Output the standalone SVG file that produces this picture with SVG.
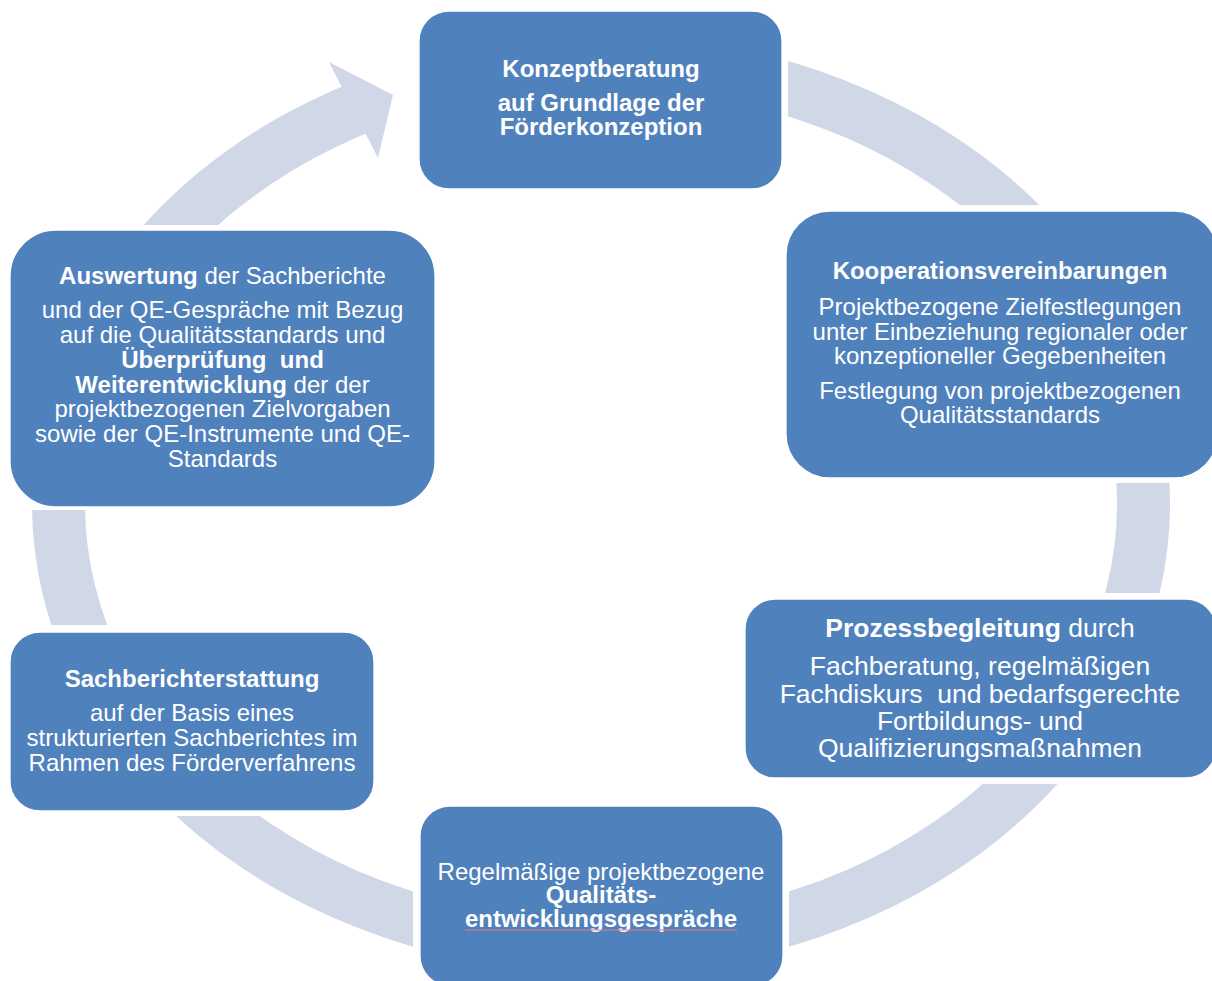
<svg xmlns="http://www.w3.org/2000/svg" width="1212" height="981" viewBox="0 0 1212 981">
<style>
.box{fill:#4F81BD;stroke:#FFFFFF;stroke-width:1.3}
.ring{fill:#D0D8E8;fill-rule:evenodd}
.t{font-family:"Liberation Sans",Arial,sans-serif;font-size:24px;fill:#FFFFFF;text-anchor:middle}
.l{font-size:26.5px}
.b{font-weight:bold}
</style>
<defs>
<path id="ring" d="M32,504 a569,469 0 1,0 1138,0 a569,469 0 1,0 -1138,0 Z M85,504 a516,416 0 1,0 1032,0 a516,416 0 1,0 -1032,0 Z"/>
<clipPath id="c1"><rect x="788" y="0" width="424" height="205"/></clipPath>
<clipPath id="c2"><rect x="601" y="483" width="611" height="110"/></clipPath>
<clipPath id="c3"><rect x="789" y="784" width="423" height="197"/></clipPath>
<clipPath id="c4"><rect x="0" y="816" width="413" height="165"/></clipPath>
<clipPath id="c5"><rect x="0" y="510" width="601" height="115"/></clipPath>
<clipPath id="c6"><polygon points="0,0 297.4,0 412.7,225 0,225"/></clipPath>
</defs>

<g id="connectors">
<use href="#ring" class="ring" clip-path="url(#c1)"/>
<use href="#ring" class="ring" clip-path="url(#c2)"/>
<use href="#ring" class="ring" clip-path="url(#c3)"/>
<use href="#ring" class="ring" clip-path="url(#c4)"/>
<use href="#ring" class="ring" clip-path="url(#c5)"/>
<use href="#ring" class="ring" clip-path="url(#c6)"/>
<polygon class="ring" points="329,62 393,95 378,158"/>
</g>

<g id="node-konzeptberatung">
<rect class="box" x="419" y="11" width="363" height="178" rx="30" ry="30"/>
<text class="t b" x="601" y="77">Konzeptberatung</text>
<text class="t b" x="601" y="111">auf Grundlage der</text>
<text class="t b" x="601" y="135">Förderkonzeption</text>
</g>

<g id="node-kooperation">
<rect class="box" x="786" y="211" width="432" height="267" rx="44" ry="44"/>
<text class="t b" x="1000" y="279">Kooperationsvereinbarungen</text>
<text class="t" x="1000" y="315">Projektbezogene Zielfestlegungen</text>
<text class="t" x="1000" y="340">unter Einbeziehung regionaler oder</text>
<text class="t" x="1000" y="364">konzeptioneller Gegebenheiten</text>
<text class="t" x="1000" y="399">Festlegung von projektbezogenen</text>
<text class="t" x="1000" y="423">Qualitätsstandards</text>
</g>

<g id="node-prozessbegleitung">
<rect class="box" x="745" y="599" width="471" height="179" rx="30" ry="30"/>
<text class="t l" x="980" y="637"><tspan class="b">Prozessbegleitung</tspan> durch</text>
<text class="t l" x="980" y="675">Fachberatung, regelmäßigen</text>
<text class="t l" x="980" y="703">Fachdiskurs&#160; und bedarfsgerechte</text>
<text class="t l" x="980" y="730">Fortbildungs- und</text>
<text class="t l" x="980" y="757">Qualifizierungsmaßnahmen</text>
</g>

<g id="node-qualitaetsentwicklung">
<rect class="box" x="420" y="806" width="363" height="180" rx="30" ry="30"/>
<text class="t" x="601" y="880">Regelmäßige projektbezogene</text>
<text class="t b" x="601" y="903">Qualitäts-</text>
<text class="t b" x="601" y="927">entwicklungsgespräche</text>
<line x1="465" y1="930" x2="737" y2="930" stroke="#E07A84" stroke-width="1.2"/>
</g>

<g id="node-sachberichterstattung">
<rect class="box" x="10" y="632" width="364" height="179" rx="30" ry="30"/>
<text class="t b" x="192" y="687">Sachberichterstattung</text>
<text class="t" x="192" y="721">auf der Basis eines</text>
<text class="t" x="192" y="746">strukturierten Sachberichtes im</text>
<text class="t" x="192" y="771">Rahmen des Förderverfahrens</text>
</g>

<g id="node-auswertung">
<rect class="box" x="10" y="230" width="425" height="277" rx="46" ry="46"/>
<text class="t" x="222.5" y="284"><tspan class="b">Auswertung</tspan> der Sachberichte</text>
<text class="t" x="222.5" y="318">und der QE-Gespräche mit Bezug</text>
<text class="t" x="222.5" y="343">auf die Qualitätsstandards und</text>
<text class="t b" x="222.5" y="368">Überprüfung&#160; und</text>
<text class="t" x="222.5" y="393"><tspan class="b">Weiterentwicklung</tspan> der der</text>
<text class="t" x="222.5" y="417">projektbezogenen Zielvorgaben</text>
<text class="t" x="222.5" y="442">sowie der QE-Instrumente und QE-</text>
<text class="t" x="222.5" y="467">Standards</text>
</g>
</svg>
